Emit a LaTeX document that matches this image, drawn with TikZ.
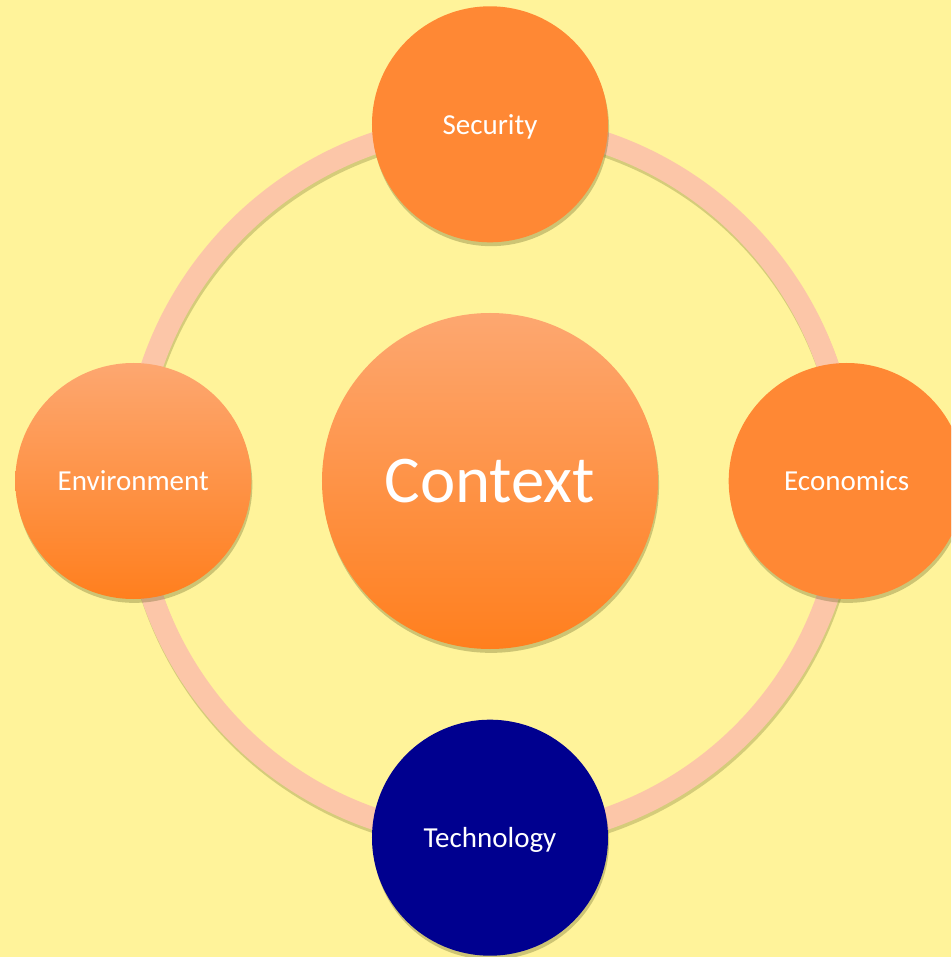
\documentclass[tikz,border=0pt]{standalone}
\usepackage{fontspec}
\setmainfont{Carlito}
\usetikzlibrary{positioning,shadows}
\definecolor{bgyellow}{RGB}{255,243,154}
\definecolor{ringpink}{RGB}{252,198,168}
\definecolor{flatorange}{RGB}{255,136,52}
\definecolor{toporange}{RGB}{253,167,112}
\definecolor{botorange}{RGB}{255,127,30}
\definecolor{navyblue}{RGB}{0,0,143}
\definecolor{shadowtone}{RGB}{90,90,30}
\tikzset{
	topic/.style={circle, minimum size=4.72cm, inner sep=0pt, text=white,
		font=\fontsize{16.5}{19}\selectfont, text depth=0pt,
		drop shadow={shadow xshift=0.6pt, shadow yshift=-2.2pt, opacity=0.3, fill=shadowtone}},
	flattopic/.style={topic, fill=flatorange},
	gradtopic/.style={topic, top color=toporange, bottom color=botorange},
	hubnode/.style={gradtopic, minimum size=6.72cm, font=\fontsize{38}{44}\selectfont},
	node distance=1.4cm
}

\begin{document}
\begin{tikzpicture}
		%%%%% BACKGROUND %%%%%
		\clip (-9.8, -9.52) rectangle (9.22, 9.62);
		\fill[bgyellow] (-9.8, -9.52) rectangle (9.22, 9.62);
		
		\coordinate (hub) at (0, 0);
		
		%%%%% RING %%%%%
		\draw[line width=0.44cm, color=shadowtone, opacity=0.25] ([shift={(0.02,-0.07)}]hub) circle (7.14);
		\draw[line width=0.44cm, color=ringpink] (hub) circle (7.14);
		
		%%%%% TOPICS %%%%%
		\node[hubnode] (context) at (hub) {Context};
		\node[flattopic, above=of context] (security) {Security};
		\node[flattopic, right=of context] (economics) {Economics};
		\node[gradtopic, left=of context] (environment) {Environment};
		\node[topic, fill=navyblue, below=of context] (technology) {Technology};
		
\end{tikzpicture}
\end{document}
